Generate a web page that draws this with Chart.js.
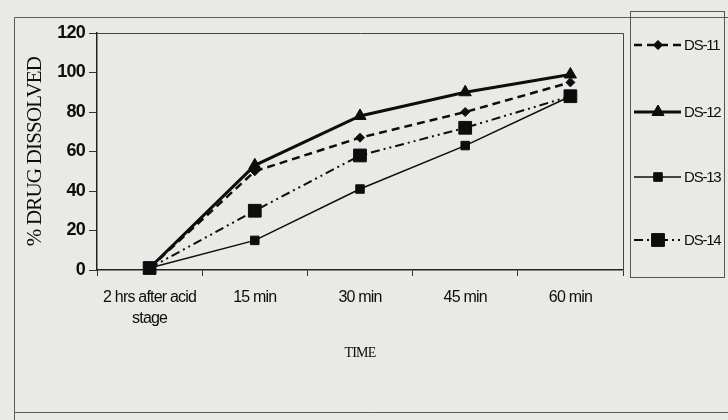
<!DOCTYPE html>
<html>
<head>
<meta charset="utf-8">
<script src="https://cdn.jsdelivr.net/npm/chart.js@4"></script>
<style>
	html, body { margin: 0; padding: 0; background: rgb(233, 233, 230); }
	#wrap { width: 728px; height: 420px; }
</style>
</head>
<body>
<div id="wrap"><canvas id="chart1" width="728" height="420"></canvas></div>
<script>
const timeLabels = [['2 hrs after acid', 'stage'], '15 min', '30 min', '45 min', '60 min']
const yTicks = [0, 20, 40, 60, 80, 100, 120]

const ds11 = [1, 50, 67, 80, 95]
const ds12 = [1, 53, 78, 90, 99]
const ds13 = [1, 15, 41, 63, 88]
const ds14 = [1, 30, 58, 72, 88]

const ink = '#0d0d0d'
const sans = '"Liberation Sans", Arial, sans-serif'
const serif = '"Liberation Serif", "Times New Roman", serif'

const datasets = [
	{ label: 'DS-11', data: ds11, borderDash: [8, 5], borderWidth: 2.5, pointStyle: 'rectRot', pointRadius: 4.5 },
	{ label: 'DS-12', data: ds12, borderDash: [], borderWidth: 3, pointStyle: 'triangle', pointRadius: 7 },
	{ label: 'DS-13', data: ds13, borderDash: [], borderWidth: 1.5, pointStyle: 'rect', pointRadius: 6 },
	{ label: 'DS-14', data: ds14, borderDash: [9, 4, 2, 4, 2, 4], borderWidth: 2, pointStyle: 'rect', pointRadius: 9 },
].map(d => ({
	...d,
	borderColor: ink,
	backgroundColor: ink,
	pointBackgroundColor: ink,
	pointBorderColor: ink,
	pointBorderWidth: 1,
	tension: 0,
	clip: false,
}))

// page frame, plot frame and the boxed legend on the right
const framePlugin = {
	id: 'frame',
	beforeDraw(chart) {
		const { ctx } = chart
		ctx.letterSpacing = '-0.8px'
		ctx.save()
		ctx.strokeStyle = '#5a5a5a'
		ctx.lineWidth = 1
		ctx.beginPath()
		ctx.moveTo(14.5, 420)
		ctx.lineTo(14.5, 17.5)
		ctx.lineTo(728, 17.5)
		ctx.moveTo(14.5, 412.5)
		ctx.lineTo(728, 412.5)
		ctx.stroke()
		ctx.restore()
	},
	afterDraw(chart) {
		const { ctx, chartArea } = chart
		ctx.save()
		ctx.strokeStyle = '#444'
		ctx.lineWidth = 1
		ctx.beginPath()
		ctx.moveTo(chartArea.left, chartArea.top + 0.5)
		ctx.lineTo(chartArea.right + 0.5, chartArea.top + 0.5)
		ctx.lineTo(chartArea.right + 0.5, chartArea.bottom)
		ctx.stroke()

		// legend box
		ctx.strokeStyle = '#555'
		ctx.strokeRect(630.5, 11.5, 94, 266)

		const rows = [45, 112, 177, 240]
		chart.data.datasets.forEach((ds, i) => {
			const y = rows[i]
			ctx.strokeStyle = ink
			ctx.lineWidth = ds.borderWidth
			ctx.setLineDash(ds.borderDash)
			ctx.beginPath()
			ctx.moveTo(634, y)
			ctx.lineTo(681, y)
			ctx.stroke()
			ctx.setLineDash([])
			ctx.lineWidth = 1
			Chart.helpers.drawPoint(ctx, {
				pointStyle: ds.pointStyle,
				radius: ds.pointRadius,
				borderWidth: 1,
			}, 658, y)
			ctx.fillStyle = ink
			ctx.fill()
			ctx.font = '15px ' + sans
			ctx.letterSpacing = '-1.2px'
			ctx.textBaseline = 'middle'
			ctx.fillText(ds.label, 684, y + 1)
		})
		ctx.restore()
		ctx.letterSpacing = '0px'
	},
}

const chartData = {
	labels: timeLabels,
	datasets: datasets,
}

const optionsData = {
	responsive: false,
	animation: false,
	layout: {
		padding: { left: 0, top: 33, right: 105, bottom: 0 },
	},
	plugins: {
		legend: { display: false },
		tooltip: { enabled: false },
	},
	scales: {
		x: {
			type: 'category',
			offset: true,
			afterFit: scale => { scale.height = 150 },
			grid: {
				offset: true,
				drawOnChartArea: false,
				drawTicks: true,
				tickLength: 6,
				color: '#333',
			},
			border: { color: '#222', width: 1.5 },
			ticks: {
				color: ink,
				padding: 11,
				maxRotation: 0,
				autoSkip: false,
				font: { family: sans, size: 16, lineHeight: 1.32 },
			},
			title: {
				display: true,
				text: 'TIME',
				color: ink,
				padding: { top: 0, bottom: 58 },
				font: { family: serif, size: 14 },
			},
		},
		y: {
			min: 0,
			max: 120,
			afterFit: scale => { scale.width = 97 },
			afterBuildTicks: scale => { scale.ticks = yTicks.map(v => ({ value: v })) },
			grid: {
				drawOnChartArea: false,
				drawTicks: true,
				tickLength: 8,
				color: '#333',
			},
			border: { color: '#222', width: 1.5 },
			ticks: {
				color: ink,
				padding: 4,
				font: { family: sans, size: 18, weight: 'bold' },
			},
			title: {
				display: true,
				text: '% DRUG DISSOLVED',
				color: ink,
				padding: { top: 23, bottom: 0 },
				font: { family: serif, size: 21 },
			},
		},
	},
}

new Chart('chart1', { type: 'line', data: chartData, options: optionsData, plugins: [framePlugin] })
</script>
</body>
</html>
